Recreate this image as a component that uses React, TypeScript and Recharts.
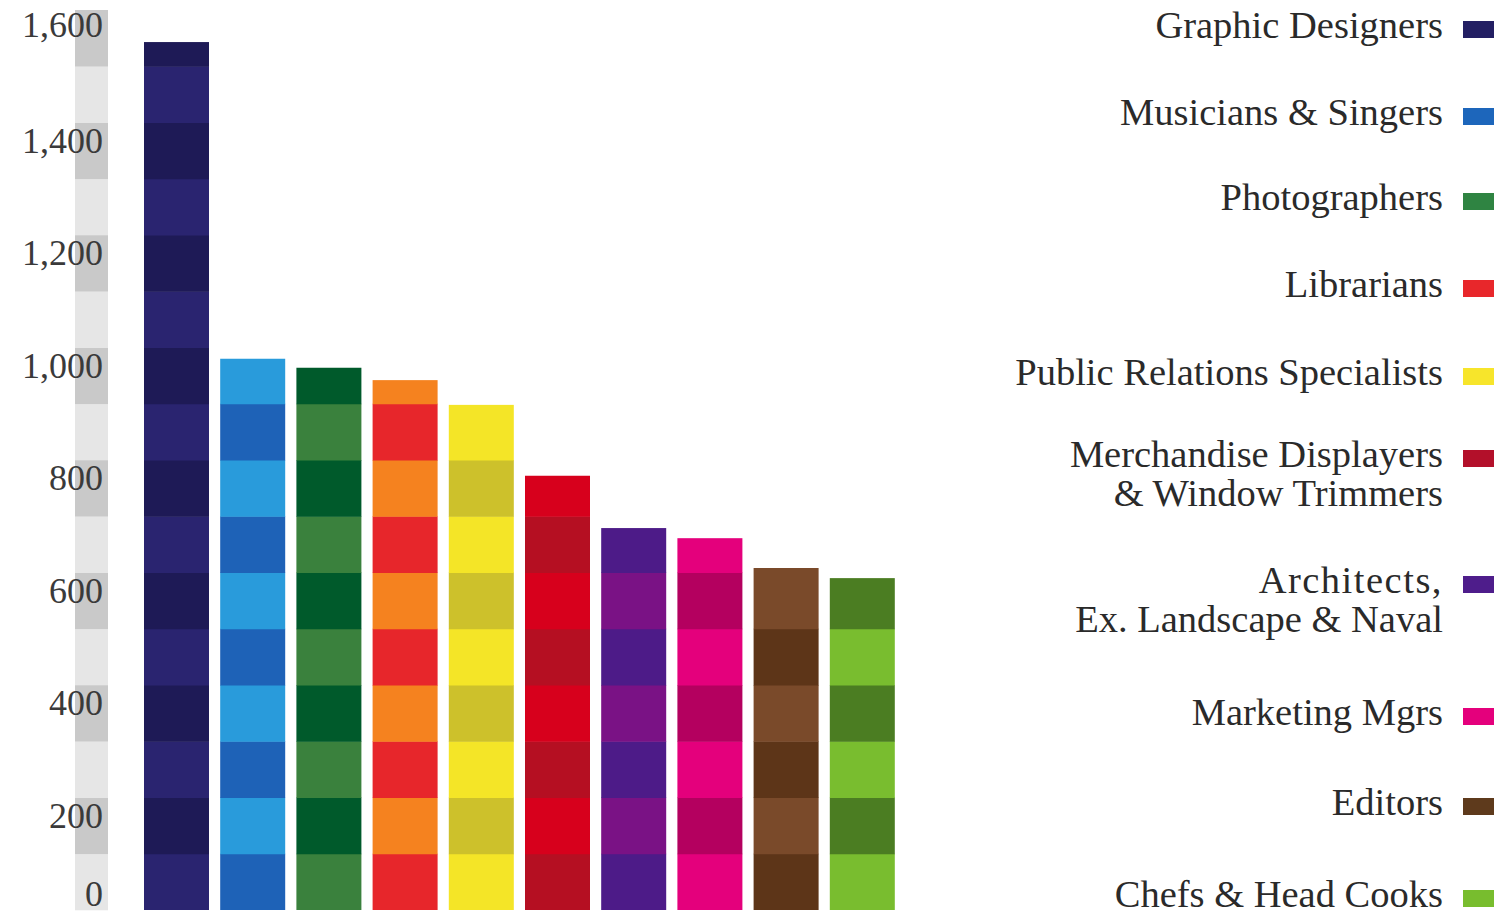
import React from 'react';
import { BarChart, Bar, XAxis, YAxis, ReferenceArea, Legend } from 'recharts';

// ---- data ----
const categories = [
  'Graphic Designers',
  'Musicians & Singers',
  'Photographers',
  'Librarians',
  'Public Relations Specialists',
  'Merchandise Displayers & Window Trimmers',
  'Architects, Ex. Landscape & Naval',
  'Marketing Mgrs',
  'Editors',
  'Chefs & Head Cooks',
];
const values = [1543, 980, 964, 942, 898, 772, 679, 661, 608, 590];
const legendLabels = [
  ['Graphic Designers'],
  ['Musicians & Singers'],
  ['Photographers'],
  ['Librarians'],
  ['Public Relations Specialists'],
  ['Merchandise Displayers', '& Window Trimmers'],
  ['Architects,', 'Ex. Landscape & Naval'],
  ['Marketing Mgrs'],
  ['Editors'],
  ['Chefs & Head Cooks'],
];
const yTicks = [0, 200, 400, 600, 800, 1000, 1200, 1400, 1600];
const stripeStep = 100;

// ---- styles ----
// [even stripe, odd stripe, legend swatch]
const palette = [
  ['#2a2470', '#1e1a56', '#231f63'],
  ['#1e62b7', '#299bdb', '#1d66bb'],
  ['#3a813d', '#005a2b', '#2f8442'],
  ['#e7262b', '#f5821f', '#e8272b'],
  ['#f4e527', '#cdc12b', '#f7e52b'],
  ['#b50f22', '#d7001c', '#b3102a'],
  ['#4d1b88', '#7a1285', '#4e1d8b'],
  ['#e4007c', '#b4005f', '#e4007c'],
  ['#5d3518', '#7a4a2a', '#5e3a1c'],
  ['#79bd2f', '#4b7d22', '#78bd2e'],
];
const legendBaselines = [38, 125, 210, 297, 385, 467, 593, 725, 815, 907];
const FONT = '"Liberation Serif", "DejaVu Serif", serif';

const tableData = categories.map((name, i) => ({ name, value: values[i] }));
const yMax = yTicks[yTicks.length - 1];
const bands = Array.from({ length: yMax / stripeStep }, (_, k) => ({
  y1: k * stripeStep,
  y2: (k + 1) * stripeStep,
  k,
}));

const StripedBar = (props: any) => {
  const { x, y, width, height, index } = props;
  const v = values[index];
  if (!height || height <= 0) return null;
  const ppu = height / v;
  const bottom = y + height;
  const full = Math.floor(v / stripeStep);
  const rem = v - full * stripeStep;
  const count = rem > 0 && rem >= 10 ? full + 1 : full;
  const rects = [];
  for (let k = 0; k < count; k++) {
    const yb = bottom - k * stripeStep * ppu;
    const yt = k === count - 1 ? y : bottom - (k + 1) * stripeStep * ppu;
    rects.push(
      <rect
        key={k}
        x={x}
        y={yt}
        width={width}
        height={yb - yt + (k === 0 ? 0 : 0.5)}
        fill={palette[index][k % 2]}
      />
    );
  }
  return <g>{rects}</g>;
};

const BandShape = (k: number) => (props: any) => (
  <rect
    x={75}
    y={props.y}
    width={33}
    height={props.height + 0.3}
    fill={k % 2 === 0 ? '#e6e6e6' : '#c9c9c9'}
  />
);

const YTick = (props: any) => {
  const { x, y, payload } = props;
  const v = payload.value;
  const dy = v === 0 ? -4 : v === yMax ? 27 : 30;
  return (
    <text
      x={x}
      y={y + dy}
      textAnchor="end"
      fontSize={36}
      fill="#3a3a3a"
      fontFamily={FONT}
    >
      {v.toLocaleString('en-US')}
    </text>
  );
};

const LegendContent = () => (
  <svg
    width={1503}
    height={915}
    style={{ position: 'absolute', left: 0, top: 0, overflow: 'visible' }}
  >
    {legendLabels.map((lines, i) => {
      const base = legendBaselines[i];
      return (
        <g key={i}>
          {lines.map((line, j) => (
            <text
              key={j}
              x={1443}
              y={base + j * 39}
              textAnchor="end"
              fontSize={38.5}
              fill="#2a2a2a"
              fontFamily={FONT}
              letterSpacing={line === 'Architects,' ? 1.5 : 0}
            >
              {line}
            </text>
          ))}
          <rect x={1463} y={base - 17} width={31} height={17} fill={palette[i][2]} />
        </g>
      );
    })}
  </svg>
);

export default function App() {
  return (
    <div style={{ position: 'absolute', left: 0, top: 0, width: 1503, height: 915, background: '#fff' }}>
      <BarChart
        width={1503}
        height={915}
        data={tableData}
        margin={{ top: 10, right: 603, bottom: 5, left: 0 }}
        style={{ fontFamily: FONT }}
      >
        <XAxis dataKey="name" hide />
        <YAxis
          type="number"
          domain={[0, yMax]}
          ticks={yTicks}
          width={138}
          tickSize={0}
          tickMargin={35}
          axisLine={false}
          tickLine={false}
          tick={<YTick />}
          interval={0}
        />
        {bands.map((b) => (
          <ReferenceArea
            key={b.k}
            y1={b.y1}
            y2={b.y2}
            ifOverflow="visible"
            shape={BandShape(b.k)}
          />
        ))}
        <Bar
          dataKey="value"
          barSize={65}
          shape={StripedBar}
          isAnimationActive={false}
        />
        <Legend
          content={<LegendContent />}
          wrapperStyle={{ left: 0, top: 0, right: 'auto', bottom: 'auto', width: 0, height: 0 }}
        />
      </BarChart>
    </div>
  );
}
